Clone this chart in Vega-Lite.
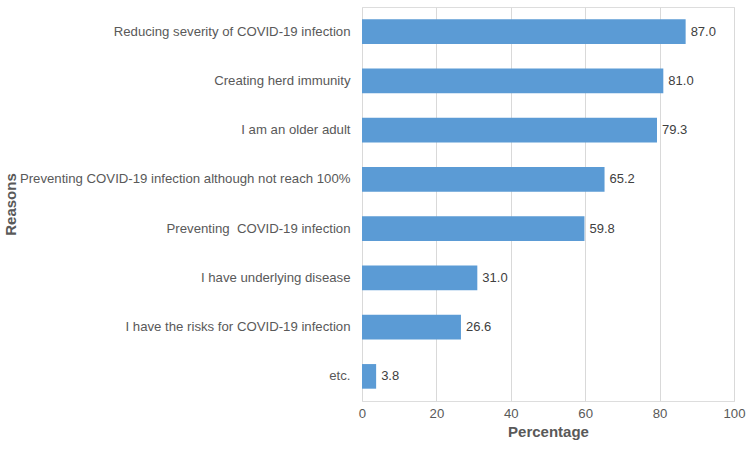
{
  "$schema": "https://vega.github.io/schema/vega-lite/v6.json",
  "width": 372,
  "height": 394,
  "autosize": {"type": "none"},
  "padding": {"left": 362, "top": 7, "right": 16, "bottom": 49},
  "background": "white",
  "data": {"values": [
    {"reason": "Reducing severity of COVID-19 infection", "pct": 87.0},
    {"reason": "Creating herd immunity\u00a0", "pct": 81.0},
    {"reason": "I am an older adult", "pct": 79.3},
    {"reason": "Preventing COVID-19 infection although not reach 100%", "pct": 65.2},
    {"reason": "Preventing\u00a0 COVID-19 infection", "pct": 59.8},
    {"reason": "I have underlying disease", "pct": 31.0},
    {"reason": "I have the risks for COVID-19 infection", "pct": 26.6},
    {"reason": "etc.", "pct": 3.8}
  ]},
  "encoding": {
    "y": {"field": "reason", "type": "nominal", "sort": null,
      "scale": {"paddingInner": 0.5, "paddingOuter": 0.25},
      "axis": {"title": "Reasons", "titleFont": "Liberation Sans", "titleFontSize": 15, "titleFontWeight": "bold", "titleColor": "#595959", "titlePadding": 0,
        "labelFont": "Liberation Sans", "labelFontSize": 13.2, "labelColor": "#595959", "labelPadding": 12, "labelLimit": 400,
        "domain": false, "ticks": false, "titleX": -344, "titleY": 197}},
    "x": {"field": "pct", "type": "quantitative", "scale": {"domain": [0, 100]},
      "axis": {"title": "Percentage", "values": [0, 20, 40, 60, 80, 100], "titleFont": "Liberation Sans", "titleFontSize": 15, "titleFontWeight": "bold", "titleColor": "#595959", "titlePadding": 5,
        "labelFont": "Liberation Sans", "labelFontSize": 13.2, "labelColor": "#595959", "labelPadding": 6, "labelFlush": false, "labelOverlap": false,
        "domain": false, "ticks": false, "grid": true, "gridColor": "#d9d9d9"}}
  },
  "layer": [
    {"mark": {"type": "bar", "color": "#5b9bd5"}},
    {"mark": {"type": "text", "align": "left", "dx": 5, "font": "Liberation Sans", "fontSize": 13, "color": "#404040"},
     "encoding": {"text": {"field": "pct", "type": "quantitative", "format": ".1f"}}}
  ]
}
